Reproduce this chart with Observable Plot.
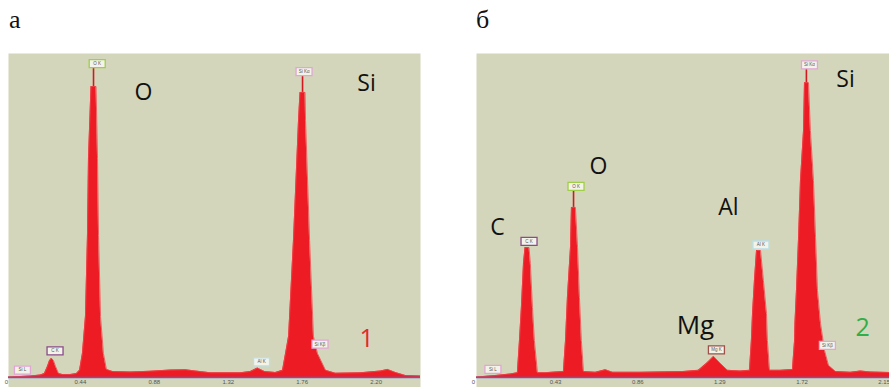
<!DOCTYPE html>
<html><head><meta charset="utf-8">
<script src="https://cdn.jsdelivr.net/npm/d3@7"></script>
<script src="https://cdn.jsdelivr.net/npm/@observablehq/plot@0.6"></script>
<style>
body{margin:0;background:#fff;}
#wrap{position:relative;width:889px;height:387px;overflow:hidden;background:#fff;}
#wrap svg{position:absolute;top:0;}
.letter{position:absolute;top:7px;font-family:"Liberation Serif","DejaVu Serif",serif;font-size:26px;line-height:26px;color:#111;}
</style></head><body>
<div id="wrap">
  <div class="letter" style="left:9px">а</div>
  <div class="letter" style="left:476px">б</div>
</div>
<script>
// ---- Panel а (sample 1): EDS spectrum, energy (keV) vs counts (relative) ----
const energyA = [0.012,0.083,0.143,0.202,0.226,0.244,0.256,0.268,0.280,0.292,0.310,0.333,0.381,0.417,0.435,0.452,0.470,0.482,0.488,0.503,0.533,0.542,0.548,0.560,0.577,0.595,0.631,0.738,0.857,0.976,1.065,1.125,1.214,1.393,1.452,1.494,1.536,1.601,1.643,1.661,1.679,1.708,1.738,1.747,1.777,1.780,1.804,1.827,1.851,1.899,1.958,2.107,2.226,2.268,2.315,2.375,2.464];
const countsA = [0.15,0.3,0.46,0.77,1.23,3.4,5.2,5.9,5.2,3.4,1.23,0.93,0.93,1.23,2.2,7.4,18.8,43.8,67.6,89.8,89.8,67.6,43.8,18.8,7.4,2.5,1.85,1.7,1.94,2.3,2.4,2.0,1.45,1.45,1.85,2.9,1.85,1.54,2.2,7.4,12.7,42.3,79.3,88,88,79.3,42.3,12.7,7.4,2.2,1.33,1.45,2.0,2.5,1.54,0.6,0.46];
const ticksA = [0, 0.44, 0.88, 1.32, 1.76, 2.20];
const xDomainA = [0.012, 2.464];
const lineNamesA = ["O K", "Si Kα", "C K", "Si L", "Al K", "Si Kβ"];
const lineLabelEA = [0.540, 1.771, 0.289, 0.095, 1.518, 1.866];
const lineLabelCA = [96.9, 94.4, 8.2, 2.3, 4.8, 10.3];
const lineColorsA = ["#9fcf45", "#e2a6d6", "#8a4c8a", "#e2a6d6", "#bcdfe6", "#e2a6d6"];
const spikeEA = [0.518, 1.762];
const spikeFromA = [89.8, 88];
const spikeToA = [95.7, 93.2];
const elemNamesA = ["O", "Si"];
const elemEA = [0.815, 2.143];
const elemCA = [88.0, 90.7];
const elemSizeA = [23, 23];
const sampleNameA = "1";
const sampleEA = 2.143, sampleCA = 12.0, sampleColorA = "#e5262d";

// ---- Panel б (sample 2) ----
const energyB = [0.016,0.052,0.115,0.194,0.230,0.241,0.251,0.262,0.270,0.291,0.298,0.309,0.319,0.335,0.377,0.429,0.471,0.482,0.492,0.508,0.513,0.534,0.545,0.555,0.565,0.576,0.639,0.691,0.728,0.874,1.099,1.178,1.220,1.257,1.293,1.330,1.398,1.445,1.455,1.461,1.471,1.482,1.503,1.518,1.534,1.539,1.550,1.607,1.670,1.681,1.683,1.691,1.702,1.712,1.728,1.733,1.754,1.764,1.780,1.791,1.801,1.817,1.838,1.859,1.895,1.974,2.026,2.079,2.178];
const countsB = [0.15,0.3,0.6,1.1,1.5,11.4,21.6,35.2,40.1,40.1,35.2,21.6,11.4,1.5,1.5,1.7,1.85,11.4,24.7,40.1,52.5,52.5,40.1,24.7,11.4,1.85,1.6,2.4,1.6,1.6,1.85,2.2,4.3,6.5,4.3,2.2,2.0,2.2,11.4,19.8,29.9,39.2,39.2,29.9,19.8,11.4,2.2,2.2,2.5,11.4,16.7,26.9,43.2,60.8,76.2,91.0,91.0,76.2,60.8,43.2,26.9,16.7,8.3,3.7,1.85,1.6,2.0,1.7,1.54];
const ticksB = [0, 0.43, 0.86, 1.29, 1.72, 2.15];
const xDomainB = [0.016, 2.178];
const lineNamesB = ["Si Kα", "O K", "C K", "Al K", "Mg K", "Si L", "Si Kβ"];
const lineLabelEB = [1.759, 0.537, 0.291, 1.505, 1.272, 0.102, 1.853];
const lineLabelCB = [96.5, 59.0, 42.0, 40.9, 8.5, 2.5, 9.9];
const lineColorsB = ["#e2a6d6", "#9fcf45", "#8a4c8a", "#bcdfe6", "#a0504a", "#e2a6d6", "#e2a6d6"];
const spikeEB = [0.524, 1.743];
const spikeFromB = [52.5, 91.0];
const spikeToB = [57.7, 95.4];
const elemNamesB = ["C", "O", "Al", "Si", "Mg"];
const elemEB = [0.126, 0.654, 1.335, 1.948, 1.162];
const elemCB = [46.3, 65.1, 52.5, 92.0, 16.0];
const elemSizeB = [23, 23, 23, 23, 26];
const sampleNameB = "2";
const sampleEB = 2.037, sampleCB = 15.4, sampleColorB = "#2fae4a";

const BG = "#d3d6ba";
const RED = "#ed1c24";

// small box used as the line-marker label frame
const boxSymbol = {draw(ctx) { ctx.moveTo(-8, -4); ctx.lineTo(8, -4); ctx.lineTo(8, 4); ctx.lineTo(-8, 4); ctx.closePath(); }};

function panel(o) {
  const spec = o.energy.map((e, i) => ({e, c: o.counts[i]}));
  const lines = o.lineNames.map((n, i) => ({n, e: o.lineE[i], c: o.lineC[i], col: o.lineColors[i]}));
  const spikes = o.spikeE.map((e, i) => ({e, c1: o.spikeFrom[i], c2: o.spikeTo[i]}));
  const elems = o.elemNames.map((n, i) => ({n, e: o.elemE[i], c: o.elemC[i], s: o.elemSize[i]}));
  const elemMarks = [...new Set(elems.map(d => d.s))].map(s =>
    Plot.text(elems.filter(d => d.s === s), {x: "e", y: "c", text: "n", fontSize: s, fill: "#111", fontFamily: "'Open Sans', sans-serif"}));
  const svg = Plot.plot({
    width: o.width, height: 387,
    marginLeft: o.marginLeft, marginRight: 0, marginTop: 53, marginBottom: 0,
    style: {fontFamily: "'Liberation Sans', sans-serif", background: "transparent", overflow: "visible"},
    x: {domain: o.xDomain},
    y: {domain: [-3.09, 100], axis: null},
    marks: [
      Plot.frame({fill: BG, stroke: "none"}),
      Plot.areaY(spec, {x: "e", y: "c", fill: RED, clip: true}),
      Plot.lineY(spec, {x: "e", y: "c", stroke: "#f0484e", strokeWidth: 0.8, clip: true}),
      Plot.ruleY([0], {stroke: "#5b5fc4", strokeWidth: 1.5}),
      Plot.ruleX(spikes, {x: "e", y1: "c1", y2: "c2", stroke: "#d01a20", strokeWidth: 1.6}),
      Plot.axisX(o.ticks, {anchor: "bottom", label: null, tickSize: 0, tickPadding: 0, dy: -8, fontSize: 6, fill: "#555",
        tickFormat: d => d === 0 ? "0" : d.toFixed(2)}),
      Plot.dot(lines, {x: "e", y: "c", symbol: boxSymbol, r: 4, fill: "#f3f3ea", stroke: "col", strokeWidth: 1.3}),
      Plot.text(lines, {x: "e", y: "c", text: "n", fontSize: 4.5, fill: "#555"}),
      ...elemMarks,
      Plot.text([o.sample], {x: "e", y: "c", text: "n", fill: "col", fontSize: 25, fontFamily: "'Open Sans', sans-serif"})
    ]
  });
  svg.style.left = o.left + "px";
  document.getElementById("wrap").appendChild(svg);
}

panel({energy: energyA, counts: countsA, ticks: ticksA, xDomain: xDomainA,
  lineNames: lineNamesA, lineE: lineLabelEA, lineC: lineLabelCA, lineColors: lineColorsA,
  spikeE: spikeEA, spikeFrom: spikeFromA, spikeTo: spikeToA,
  elemNames: elemNamesA, elemE: elemEA, elemC: elemCA, elemSize: elemSizeA,
  sample: {n: sampleNameA, e: sampleEA, c: sampleCA, col: sampleColorA},
  width: 420, marginLeft: 8, left: 0});
panel({energy: energyB, counts: countsB, ticks: ticksB, xDomain: xDomainB,
  lineNames: lineNamesB, lineE: lineLabelEB, lineC: lineLabelCB, lineColors: lineColorsB,
  spikeE: spikeEB, spikeFrom: spikeFromB, spikeTo: spikeToB,
  elemNames: elemNamesB, elemE: elemEB, elemC: elemCB, elemSize: elemSizeB,
  sample: {n: sampleNameB, e: sampleEB, c: sampleCB, col: sampleColorB},
  width: 445, marginLeft: 32, left: 444});
</script>
</body></html>
